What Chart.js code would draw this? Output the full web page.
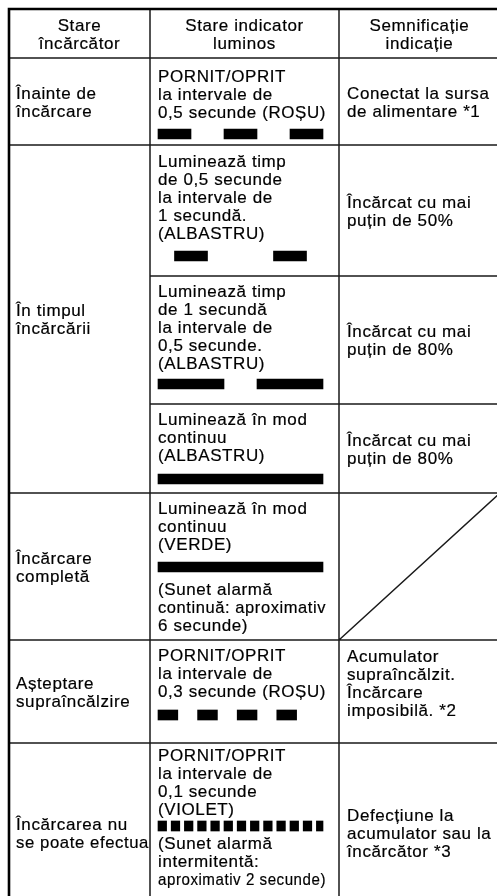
<!DOCTYPE html>
<html>
<head>
<meta charset="utf-8">
<script src="https://cdn.jsdelivr.net/npm/chart.js@4.4.1/dist/chart.umd.min.js"></script>
<style>
  html, body { margin: 0; padding: 0; background: #fff; }
  #wrap { width: 497px; height: 896px; }
</style>
</head>
<body>
<div id="wrap"><canvas id="table" width="497" height="896"></canvas></div>
<script>
// marks where the light pattern sits inside an indicator cell
const BAR = null;

const headers = [
  ['Stare', 'încărcător'],
  ['Stare indicator', 'luminos'],
  ['Semnificație', 'indicație']
];

const states = [
  ['Înainte de', 'încărcare'],
  ['În timpul', 'încărcării'],
  ['Încărcare', 'completă'],
  ['Așteptare', 'supraîncălzire'],
  ['Încărcarea nu', 'se poate efectua']
];
const stateRowSpans = [1, 3, 1, 1, 1];

const indicators = [
  ['PORNIT/OPRIT', 'la intervale de', '0,5 secunde (ROȘU)', BAR],
  ['Luminează timp', 'de 0,5 secunde', 'la intervale de', '1 secundă.', '(ALBASTRU)', BAR],
  ['Luminează timp', 'de 1 secundă', 'la intervale de', '0,5 secunde.', '(ALBASTRU)', BAR],
  ['Luminează în mod', 'continuu', '(ALBASTRU)', BAR],
  ['Luminează în mod', 'continuu', '(VERDE)', BAR, '(Sunet alarmă', 'continuă: aproximativ', '6 secunde)'],
  ['PORNIT/OPRIT', 'la intervale de', '0,3 secunde (ROȘU)', BAR],
  ['PORNIT/OPRIT', 'la intervale de', '0,1 secunde', '(VIOLET)', BAR, '(Sunet alarmă', 'intermitentă:', 'aproximativ 2 secunde)']
];

const meanings = [
  ['Conectat la sursa', 'de alimentare *1'],
  ['Încărcat cu mai', 'puțin de 50%'],
  ['Încărcat cu mai', 'puțin de 80%'],
  ['Încărcat cu mai', 'puțin de 80%'],
  [],
  ['Acumulator', 'supraîncălzit.', 'Încărcare', 'imposibilă. *2'],
  ['Defecțiune la', 'acumulator sau la', 'încărcător *3']
];
// cell crossed out (no meaning)
const crossedOut = [false, false, false, false, true, false, false];

// ON intervals of the indicator light, in seconds
const lightPatterns = [
  [[0, 0.5], [1, 1.5], [2, 2.5]],
  [[0.25, 0.75], [1.75, 2.25]],
  [[0, 1], [1.5, 2.5]],
  [[0, 2.5]],
  [[0, 2.5]],
  [[0, 0.3], [0.6, 0.9], [1.2, 1.5], [1.8, 2.1]],
  [[0, 0.13], [0.2, 0.33], [0.4, 0.53], [0.6, 0.73], [0.8, 0.93], [1.0, 1.13], [1.2, 1.33],
   [1.4, 1.53], [1.6, 1.73], [1.8, 1.93], [2.0, 2.13], [2.2, 2.33], [2.4, 2.5]]
];

// layout (pixels)
const W = 497, H = 896;
const colX = [9, 150, 339, 500];
const rowY = [9, 58, 145, 276, 404, 493, 640, 743, 922];
const textX = [16, 158, 347];
const textMaxW = [133, 168, 146];
const LINE_H = 18;
const HEAD_BASELINE = 22;
const firstBaseline = [24, 22, 21, 21, 21, 21, 18];
const barDrop = [16, 17, 15, 18, 17, 18, 11];
const afterBar = [26, 26, 26, 26, 28, 26, 23];
const PX_PER_SEC = 66;
const FONT = '17px "Liberation Sans", Arial, Helvetica, sans-serif';

function indicatorLayout(r) {
  let y = rowY[r + 1] + firstBaseline[r];
  const lines = [];
  let barY = null;
  indicators[r].forEach(item => {
    if (item === BAR) {
      barY = y - LINE_H + barDrop[r];
      y = barY + afterBar[r];
    } else {
      lines.push({ text: item, y });
      y += LINE_H;
    }
  });
  return { lines, barY };
}

const layouts = indicators.map((_, r) => indicatorLayout(r));

const barData = [];
lightPatterns.forEach((pattern, r) => {
  pattern.forEach(([on, off]) => barData.push({ x: [on, off], y: layouts[r].barY }));
});

function text(ctx, t, x, y, maxW) {
  ctx.strokeText(t, x, y, maxW);
  ctx.fillText(t, x, y, maxW);
}

// centred vertically, or top-aligned when the block nearly fills the cell
function drawBlock(ctx, yScale, lines, col, top, bottom) {
  const pTop = yScale.getPixelForValue(top);
  const pBottom = yScale.getPixelForValue(bottom);
  const mid = (pTop + pBottom) / 2;
  const tall = lines.length * LINE_H > 0.6 * (pBottom - pTop);
  lines.forEach((t, k) => {
    const y = tall ? pTop + HEAD_BASELINE + k * LINE_H
                   : mid + (k - (lines.length - 1) / 2) * LINE_H + 6;
    text(ctx, t, textX[col], y, textMaxW[col]);
  });
}

const tablePlugin = {
  id: 'tablePlugin',
  afterDatasetsDraw(chart) {
    const ctx = chart.ctx;
    const ys = chart.scales.y;
    const py = v => ys.getPixelForValue(v);
    ctx.save();
    ctx.fillStyle = '#000';
    ctx.strokeStyle = '#000';
    ctx.lineWidth = 0.2;
    ctx.font = FONT;
    ctx.textBaseline = 'alphabetic';
    if ('letterSpacing' in ctx) ctx.letterSpacing = '0.6px';

    // header
    ctx.textAlign = 'center';
    headers.forEach((lines, c) => {
      const cx = (colX[c] + colX[c + 1]) / 2;
      lines.forEach((t, k) => text(ctx, t, cx, py(rowY[0]) + HEAD_BASELINE + k * LINE_H));
    });

    ctx.textAlign = 'left';
    // first column, spanning rows
    let r = 0;
    states.forEach((lines, i) => {
      const span = stateRowSpans[i];
      drawBlock(ctx, ys, lines, 0, rowY[r + 1], rowY[r + 1 + span]);
      r += span;
    });

    // indicator column
    layouts.forEach(l => {
      l.lines.forEach(line => text(ctx, line.text, textX[1], py(line.y), textMaxW[1]));
    });

    // meaning column
    meanings.forEach((lines, i) => {
      drawBlock(ctx, ys, lines, 2, rowY[i + 1], rowY[i + 2]);
    });

    // grid
    ctx.strokeStyle = '#1a1a1a';
    ctx.lineWidth = 1.5;
    ctx.beginPath();
    // header bottom and full-width row rules
    [1, 2, 5, 6, 7].forEach(i => { ctx.moveTo(colX[0], py(rowY[i])); ctx.lineTo(W, py(rowY[i])); });
    // rules inside the spanned rows (cols 2-3 only)
    [3, 4].forEach(i => { ctx.moveTo(colX[1], py(rowY[i])); ctx.lineTo(W, py(rowY[i])); });
    [1, 2].forEach(c => { ctx.moveTo(colX[c], py(rowY[0])); ctx.lineTo(colX[c], H); });
    // crossed out cells
    crossedOut.forEach((x, i) => {
      if (!x) return;
      ctx.moveTo(colX[2], py(rowY[i + 2]));
      ctx.lineTo(colX[3], py(rowY[i + 1]));
    });
    ctx.stroke();

    // outer border
    ctx.lineWidth = 2.6;
    ctx.strokeStyle = '#000';
    ctx.beginPath();
    ctx.moveTo(colX[0], H);
    ctx.lineTo(colX[0], py(rowY[0]));
    ctx.lineTo(W, py(rowY[0]));
    ctx.stroke();
    ctx.restore();
  }
};

new Chart(document.getElementById('table'), {
  type: 'bar',
  data: {
    datasets: [{
      data: barData,
      backgroundColor: '#000',
      borderWidth: 0,
      barThickness: 10
    }]
  },
  options: {
    indexAxis: 'y',
    responsive: false,
    animation: false,
    devicePixelRatio: 1,
    layout: { padding: 0 },
    events: [],
    plugins: {
      legend: { display: false },
      tooltip: { enabled: false }
    },
    scales: {
      x: {
        type: 'linear',
        display: false,
        offset: false,
        min: -textX[1] / PX_PER_SEC,
        max: (W - textX[1]) / PX_PER_SEC
      },
      y: {
        type: 'linear',
        display: false,
        offset: false,
        reverse: true,
        min: 0,
        max: H
      }
    }
  },
  plugins: [tablePlugin]
});
</script>
</body>
</html>
